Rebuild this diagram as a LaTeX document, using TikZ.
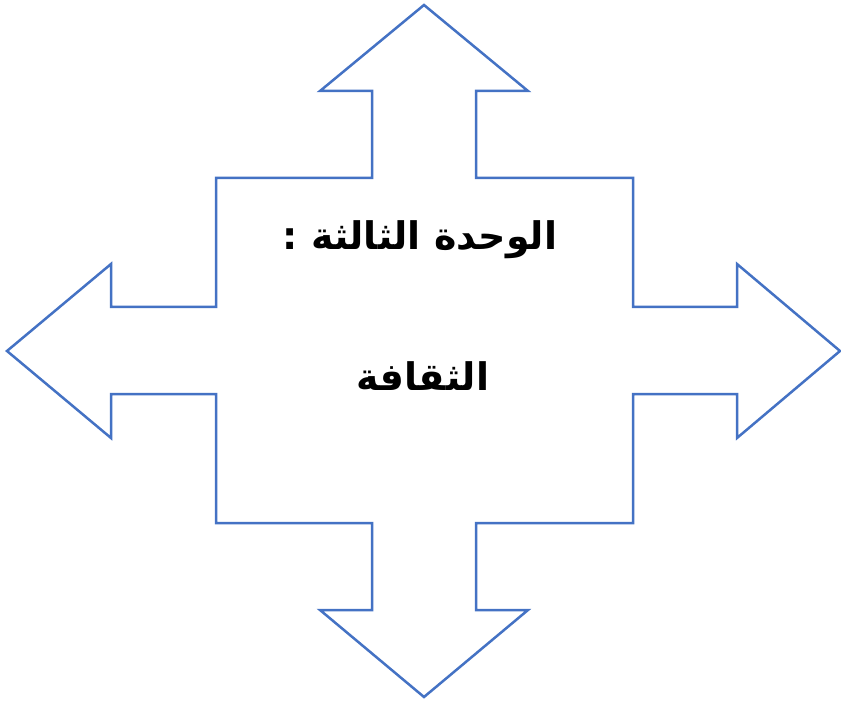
\documentclass[tikz,border=0pt]{standalone}
\usepackage{fontspec}
\newfontfamily\arabicfont[Script=Arabic]{DejaVu Sans}
\TeXXeTstate=1
\definecolor{arrowblue}{HTML}{4472C4}
\tikzset{quadarrow/.style={draw=arrowblue,line width=2.5pt,line join=miter,fill=white},
lbl/.style={font=\arabicfont\bfseries\fontsize{38}{44}\selectfont,text=black,inner sep=0pt}}
\begin{document}
\begin{tikzpicture}[x=1pt,y=-1pt]
\useasboundingbox (0,0) rectangle (841,703);
\draw[quadarrow] (424,5) -- (528,91) -- (476,91) -- (476,178) -- (633,178) -- (633,307)
 -- (737,307) -- (737,264) -- (840,351) -- (737,438) -- (737,394) -- (633,394)
 -- (633,523) -- (476,523) -- (476,610) -- (528,610) -- (424,697) -- (320,610)
 -- (372,610) -- (372,523) -- (216,523) -- (216,394) -- (111,394) -- (111,438)
 -- (7,351) -- (111,264) -- (111,307) -- (216,307) -- (216,178) -- (372,178)
 -- (372,91) -- (320,91) -- cycle;
\node[lbl] (title) at (420,240) {\beginR الوحدة الثالثة :\endR};
\node[lbl] (sub) at (423,376) {\beginR الثقافة\endR};
\end{tikzpicture}
\end{document}
